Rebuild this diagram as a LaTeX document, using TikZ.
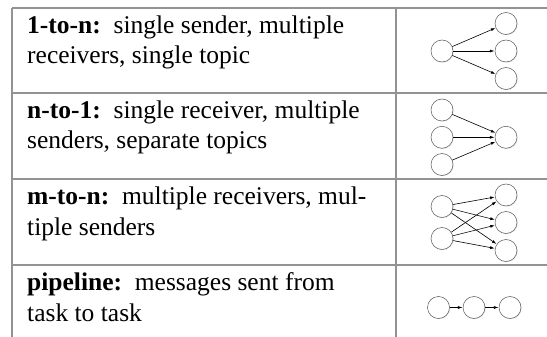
\documentclass[tikz,border=0pt]{standalone}
\usepackage{fontspec}
\setmainfont{Liberation Serif}
\usetikzlibrary{arrows.meta,shadows}

\tikzset{
	tablerule/.style={draw=gray!85, line width=1.6pt},
	celltext/.style={anchor=base west, align=left, inner sep=0pt, font=\fontsize{25.5}{31}\selectfont},
	task/.style={circle, draw=gray!70!black, fill=white, line width=0.5pt, minimum size=22pt, inner sep=0pt,
		drop shadow={opacity=0.2, shadow xshift=0.7pt, shadow yshift=-0.7pt}},
	msg/.style={-{Latex[length=4.5pt,width=3pt]}, line width=0.6pt, shorten >=0.3pt}
}

\begin{document}
\begin{tikzpicture}[x=1pt,y=-1pt]

	%Background
	\useasboundingbox[fill=white] (0,0) rectangle (547,337);

	%Frame
	\draw[tablerule] (12,8) -- (547,8);
	\draw[tablerule] (12,93) -- (547,93);
	\draw[tablerule] (12,179) -- (547,179);
	\draw[tablerule] (12,265) -- (547,265);
	\draw[tablerule] (12,8) -- (12,337);
	\draw[tablerule] (396,8) -- (396,337);

	%Texts (anchored at the baseline of the second line)
	\node[celltext] (txtA) at (27,64) {\textbf{1-to-n:}\ \ single sender, multiple\\receivers, single topic};
	\node[celltext] (txtB) at (27,149) {\textbf{n-to-1:}\ \ single receiver, multiple\\senders, separate topics};
	\node[celltext] (txtC) at (27,235) {\textbf{m-to-n:}\ \ multiple receivers, mul-\\tiple senders};
	\node[celltext] (txtD) at (27,321) {\textbf{pipeline:}\ \ messages sent from\\task to task};

	%1-to-n
	\node[task] (oneSrc) at (442,51) {};
	\node[task] (oneRcvA) at (506,23.5) {};
	\node[task] (oneRcvB) at (506,51) {};
	\node[task] (oneRcvC) at (506,78.5) {};
	\draw[msg] (oneSrc) -- (oneRcvA);
	\draw[msg] (oneSrc) -- (oneRcvB);
	\draw[msg] (oneSrc) -- (oneRcvC);

	%n-to-1
	\node[task] (manySndA) at (442,110) {};
	\node[task] (manySndB) at (442,137.3) {};
	\node[task] (manySndC) at (442,164.5) {};
	\node[task] (manyRcv) at (506,137.3) {};
	\draw[msg] (manySndA) -- (manyRcv);
	\draw[msg] (manySndB) -- (manyRcv);
	\draw[msg] (manySndC) -- (manyRcv);

	%m-to-n
	\node[task] (mnSndA) at (442,206.5) {};
	\node[task] (mnSndB) at (442,238.5) {};
	\node[task] (mnRcvA) at (506,195) {};
	\node[task] (mnRcvB) at (506,222.5) {};
	\node[task] (mnRcvC) at (506,250.5) {};
	\foreach \s in {mnSndA,mnSndB}
		\foreach \r in {mnRcvA,mnRcvB,mnRcvC}
			\draw[msg] (\s) -- (\r);

	%pipeline
	\node[task] (pipeA) at (438.5,307.5) {};
	\node[task] (pipeB) at (474,307.5) {};
	\node[task] (pipeC) at (510,307.5) {};
	\draw[msg] (pipeA) -- (pipeB);
	\draw[msg] (pipeB) -- (pipeC);

\end{tikzpicture}
\end{document}
